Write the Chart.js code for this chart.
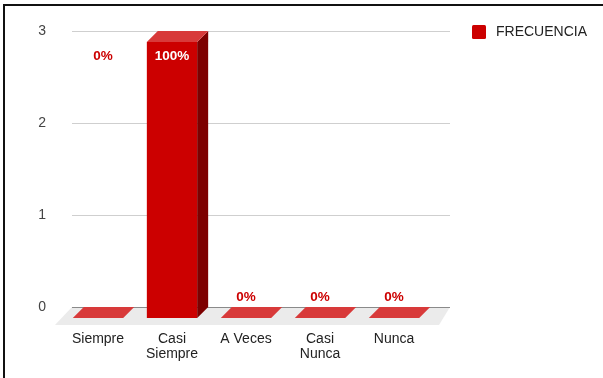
<!DOCTYPE html>
<html>
<head>
<meta charset="utf-8">
<script src="https://cdn.jsdelivr.net/npm/chart.js@4.4.0/dist/chart.umd.min.js"></script>
<style>
  html, body { margin: 0; padding: 0; background: #fff; }
</style>
</head>
<body>
<canvas id="frecuenciaChart" width="603" height="378"></canvas>
<script>
// Frecuencia por categoría (barras 3D)
const categorias = ['Siempre', ['Casi', 'Siempre'], 'A Veces', ['Casi', 'Nunca'], 'Nunca'];
const frecuencia = [0, 3, 0, 0, 0];
const ticksY = [0, 1, 2, 3];

const FONT = '"Liberation Sans", Arial, sans-serif';
const DEPTH = 11;            // desplazamiento de la cara trasera
const ROJO = '#cc0000';
const ROJO_CLARO = '#d83a3a';
const ROJO_OSCURO = '#7d0000';

const total = frecuencia.reduce((s, v) => s + v, 0);
const maxVal = Math.max(...frecuencia);
const iMax = frecuencia.indexOf(maxVal);

const bar3d = {
    id: 'bar3d',
    beforeDraw(chart) {
        const ctx = chart.ctx;
        ctx.save();
        ctx.fillStyle = '#fff';
        ctx.fillRect(0, 0, chart.width, chart.height);
        // marco
        ctx.fillStyle = '#111';
        ctx.fillRect(3, 4, chart.width - 3, 2);
        ctx.fillRect(3, 4, 2, chart.height - 4);
        ctx.restore();
    },
    beforeDatasetsDraw(chart) {
        const { ctx, chartArea: a, scales: { y } } = chart;
        ctx.save();
        // suelo
        ctx.fillStyle = '#ebebeb';
        ctx.beginPath();
        ctx.moveTo(a.left - 6, a.bottom + 7);
        ctx.lineTo(a.right + 8, a.bottom + 7);
        ctx.lineTo(a.right + 19, a.bottom - DEPTH);
        ctx.lineTo(a.left + DEPTH, a.bottom - DEPTH);
        ctx.closePath();
        ctx.fill();
        // líneas de la pared del fondo
        ctx.lineWidth = 1;
        ticksY.forEach(v => {
            const py = Math.round(y.getPixelForValue(v) - DEPTH) + 0.5;
            ctx.strokeStyle = v === 0 ? '#8a8a8a' : '#cfcfcf';
            ctx.beginPath();
            ctx.moveTo(a.left + DEPTH, py);
            ctx.lineTo(a.right + 19, py);
            ctx.stroke();
        });
        ctx.restore();
    },
    afterDatasetsDraw(chart) {
        const { ctx, scales: { y } } = chart;
        const meta = chart.getDatasetMeta(0);
        ctx.save();
        meta.data.forEach(bar => {
            const { x, y: top, base, width } = bar.getProps(['x', 'y', 'base', 'width'], true);
            const l = x - width / 2, r = x + width / 2;
            // lateral
            if (base - top > 0) {
                ctx.fillStyle = ROJO_OSCURO;
                ctx.beginPath();
                ctx.moveTo(r, top);
                ctx.lineTo(r + DEPTH, top - DEPTH);
                ctx.lineTo(r + DEPTH, base - DEPTH);
                ctx.lineTo(r, base);
                ctx.closePath();
                ctx.fill();
            }
            // tapa
            ctx.fillStyle = ROJO_CLARO;
            ctx.beginPath();
            ctx.moveTo(l, top);
            ctx.lineTo(l + DEPTH, top - DEPTH);
            ctx.lineTo(r + DEPTH, top - DEPTH);
            ctx.lineTo(r, top);
            ctx.closePath();
            ctx.fill();
        });

        // porcentajes
        ctx.font = 'bold 13.5px ' + FONT;
        ctx.textAlign = 'center';
        ctx.textBaseline = 'middle';
        const yTop = y.getPixelForValue(maxVal);
        meta.data.forEach((bar, i) => {
            const v = frecuencia[i];
            const txt = Math.round(v / total * 100) + '%';
            let lx = bar.x, ly;
            if (v > 0) {
                ctx.fillStyle = '#fff';
                ly = bar.y + 14;
            } else if (i < iMax) {
                ctx.fillStyle = ROJO;
                lx = bar.x + 5;
                ly = yTop + 14;
            } else {
                ctx.fillStyle = ROJO;
                ly = bar.base - DEPTH - 10;
            }
            ctx.fillText(txt, lx, ly);
        });
        ctx.restore();
    },
    afterDraw(chart) {
        // leyenda
        const ctx = chart.ctx;
        const ds = chart.data.datasets[0];
        ctx.save();
        ctx.fillStyle = ds.backgroundColor;
        ctx.beginPath();
        ctx.roundRect(472, 25, 14, 14, 1.5);
        ctx.fill();
        ctx.fillStyle = '#222';
        ctx.font = '14px ' + FONT;
        ctx.textAlign = 'left';
        ctx.textBaseline = 'middle';
        ctx.fillText(ds.label, 496, 32);
        ctx.restore();
    }
};

new Chart(document.getElementById('frecuenciaChart'), {
    type: 'bar',
    data: {
        labels: categorias,
        datasets: [{
            label: 'FRECUENCIA',
            data: frecuencia,
            backgroundColor: ROJO,
            borderWidth: 0,
            categoryPercentage: 1,
            barPercentage: 0.68
        }]
    },
    options: {
        responsive: false,
        animation: false,
        devicePixelRatio: 1,
        layout: { padding: { top: 42, right: 172, bottom: 0, left: 0 } },
        plugins: {
            legend: { display: false },
            tooltip: { enabled: false }
        },
        scales: {
            x: {
                grid: { display: false, drawTicks: false },
                border: { display: false },
                ticks: {
                    color: '#222',
                    font: { family: FONT, size: 14, lineHeight: 1.1 },
                    padding: 13,
                    maxRotation: 0,
                    autoSkip: false
                },
                afterFit(scale) { scale.height = 60; }
            },
            y: {
                min: ticksY[0],
                max: ticksY[ticksY.length - 1],
                grid: { display: false, drawTicks: false },
                border: { display: false },
                ticks: {
                    stepSize: 1,
                    color: '#444',
                    font: { family: FONT, size: 14 },
                    padding: 15,
                    labelOffset: -DEPTH
                },
                afterFit(scale) { scale.width = 61; }
            }
        }
    }
    ,
    plugins: [bar3d]
});
</script>
</body>
</html>
